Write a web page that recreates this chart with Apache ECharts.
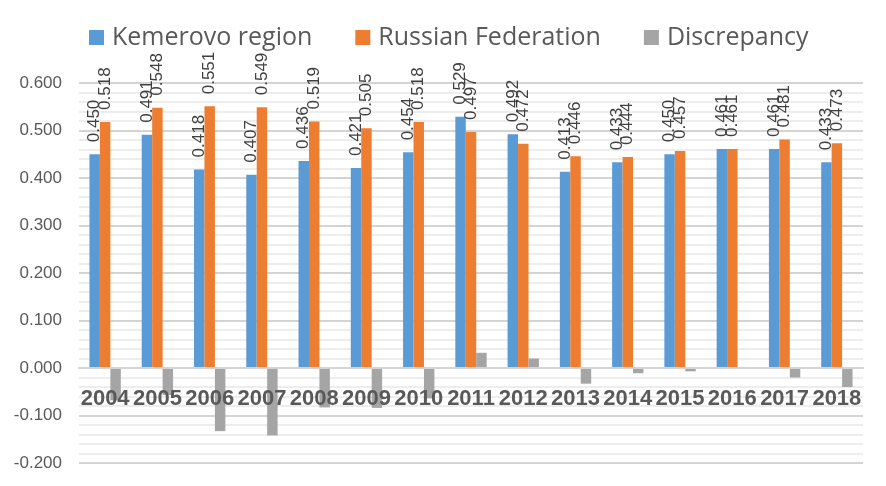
<!DOCTYPE html>
<html><head><meta charset="utf-8">
<script src="https://cdn.jsdelivr.net/npm/echarts@6/dist/echarts.min.js"></script>
<style>html,body{margin:0;padding:0;background:#fff}#c{width:886px;height:486px}</style>
</head><body><div id="c"></div>
<script>
var years = ['2004','2005','2006','2007','2008','2009','2010','2011','2012','2013','2014','2015','2016','2017','2018'];
var kemerovo = [0.450,0.491,0.418,0.407,0.436,0.421,0.454,0.529,0.492,0.413,0.433,0.450,0.461,0.461,0.433];
var russia = [0.518,0.548,0.551,0.549,0.519,0.505,0.518,0.497,0.472,0.446,0.444,0.457,0.461,0.481,0.473];
var discrepancy = [-0.068,-0.057,-0.133,-0.142,-0.083,-0.084,-0.064,0.032,0.020,-0.033,-0.011,-0.007,0.000,-0.020,-0.040];
var seriesNames = ['Kemerovo region','Russian Federation','Discrepancy'];

var chart = echarts.init(document.getElementById('c'));
var valLabel = {
  show: true, position: 'top', rotate: 90, align: 'left', verticalAlign: 'middle',
  distance: 12, fontFamily: 'Liberation Sans, Arial, sans-serif', fontSize: 17, color: '#404040',
  formatter: function(p){ return p.value.toFixed(3); }
};
chart.setOption({
  animation: false,
  legend: {
    left: 84, top: 20, itemWidth: 15, itemHeight: 15, itemGap: 43,
    icon: 'rect',
    textStyle: { fontFamily: 'Open Sans, sans-serif', fontSize: 25, color: '#595959', padding: [0,0,0,3] },
    data: seriesNames
  },
  grid: { left: 79, right: 23, top: 83, bottom: 23, containLabel: false, outerBoundsMode: 'none' },
  xAxis: {
    type: 'category', data: years, z: 10,
    offset: -95,
    axisTick: { show: false },
    axisLine: { show: true, onZero: false, lineStyle: { color: '#d4d4d4', width: 2 } },
    axisLabel: { interval: 0, margin: 20, fontFamily: 'Liberation Sans, Arial, sans-serif', fontWeight: 'bold', fontSize: 22, color: '#595959' }
  },
  yAxis: {
    type: 'value', min: -0.2, max: 0.6, interval: 0.1,
    axisLine: { show: false }, axisTick: { show: false },
    axisLabel: { margin: 17, fontFamily: 'Liberation Sans, Arial, sans-serif', fontSize: 17, color: '#595959',
      formatter: function(v){ return v.toFixed(3); } },
    splitLine: { show: true, lineStyle: { color: '#d4d4d4', width: 2 } },
    minorTick: { show: false, splitNumber: 5 },
    minorSplitLine: { show: true, lineStyle: { color: '#ededed', width: 2 } }
  },
  series: [
    { name: seriesNames[0], type: 'bar', data: kemerovo, barGap: '0%', barCategoryGap: '40%',
      itemStyle: { color: '#5B9BD5' }, label: valLabel },
    { name: seriesNames[1], type: 'bar', data: russia, barGap: '0%', barCategoryGap: '40%',
      itemStyle: { color: '#ED7D31' }, label: valLabel },
    { name: seriesNames[2], type: 'bar', data: discrepancy, barGap: '0%', barCategoryGap: '40%',
      itemStyle: { color: '#A5A5A5' } }
  ]
});
</script></body></html>
